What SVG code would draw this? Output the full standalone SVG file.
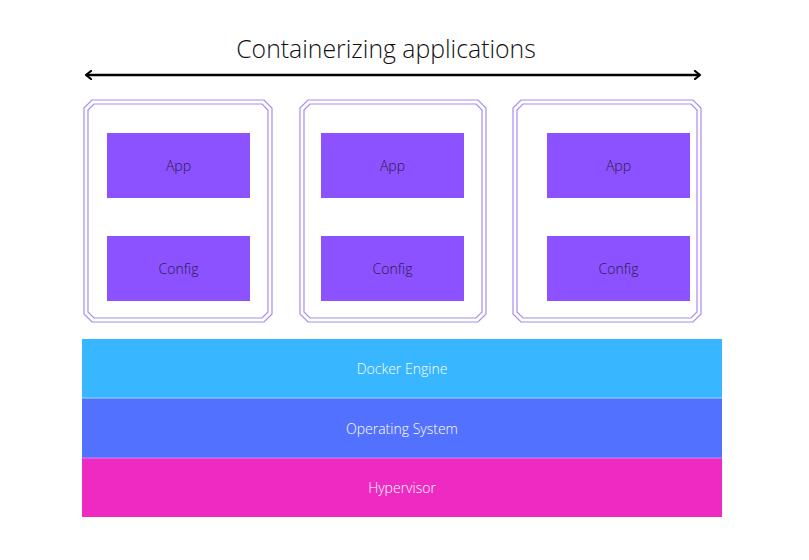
<svg xmlns="http://www.w3.org/2000/svg" width="809" height="560" viewBox="0 0 809 560">
<style>
.frame{fill:none;stroke:#a98cf0;stroke-width:1.2}
.box{fill:#8c52ff}
.bt{font-family:"Open Sans",sans-serif;font-size:14px;font-weight:300;fill:#2a1a44;text-anchor:middle;dominant-baseline:central}
.lt{font-family:"Open Sans",sans-serif;font-size:14px;font-weight:300;fill:#ffffff;text-anchor:middle;dominant-baseline:central}
.title{font-family:"Open Sans",sans-serif;font-size:24.8px;font-weight:300;fill:#111;text-anchor:middle}
</style>
<defs>
<marker id="chev" viewBox="0 0 10 10" refX="7" refY="5" markerWidth="10" markerHeight="10" markerUnits="userSpaceOnUse" orient="auto-start-reverse">
<path d="M2,1 L7,5 L2,9" fill="none" stroke="#000" stroke-width="2.2" stroke-linecap="round" stroke-linejoin="round"/>
</marker>
</defs>
<rect width="809" height="560" fill="#fff"/>
<text class="title" x="386" y="58">Containerizing applications</text>
<g id="connectors">
<line x1="86" y1="75" x2="700" y2="75" stroke="#000" stroke-width="2.5" marker-start="url(#chev)" marker-end="url(#chev)"/>
</g>
<g id="container1">
<path class="frame" d="M92,100 H264 L272,108 V314 L264,322 H92 L84,314 V108 Z"/>
<path class="frame" d="M94,104 H262 L268,110 V312 L262,318 H94 L88,312 V110 Z"/>
<g id="app1"><rect class="box" x="107" y="133" width="143" height="65"/><text class="bt" x="178.5" y="165.5">App</text></g>
<g id="config1"><rect class="box" x="107" y="236" width="143" height="65"/><text class="bt" x="178.5" y="268.5">Config</text></g>
</g>
<g id="container2">
<path class="frame" d="M308,100 H478 L486,108 V314 L478,322 H308 L300,314 V108 Z"/>
<path class="frame" d="M310,104 H476 L482,110 V312 L476,318 H310 L304,312 V110 Z"/>
<g id="app2"><rect class="box" x="321" y="133" width="143" height="65"/><text class="bt" x="392.5" y="165.5">App</text></g>
<g id="config2"><rect class="box" x="321" y="236" width="143" height="65"/><text class="bt" x="392.5" y="268.5">Config</text></g>
</g>
<g id="container3">
<path class="frame" d="M521,100 H693 L701,108 V314 L693,322 H521 L513,314 V108 Z"/>
<path class="frame" d="M523,104 H691 L697,110 V312 L691,318 H523 L517,312 V110 Z"/>
<g id="app3"><rect class="box" x="547" y="133" width="143" height="65"/><text class="bt" x="618.5" y="165.5">App</text></g>
<g id="config3"><rect class="box" x="547" y="236" width="143" height="65"/><text class="bt" x="618.5" y="268.5">Config</text></g>
</g>
<g id="docker"><rect x="82" y="339" width="640" height="59" fill="#38b6ff"/><text class="lt" x="402" y="368.5">Docker Engine</text></g>
<g id="os"><rect x="82" y="398" width="640" height="60" fill="#5271ff"/><text class="lt" x="402" y="428">Operating System</text></g>
<g id="hypervisor"><rect x="82" y="458" width="640" height="59" fill="#ee2ac3"/><text class="lt" x="402" y="487.5">Hypervisor</text></g>
<line x1="82" y1="398" x2="722" y2="398" stroke="#9fd8ff" stroke-width="1"/>
<line x1="82" y1="458" x2="722" y2="458" stroke="#c58cf5" stroke-width="1"/>
</svg>
